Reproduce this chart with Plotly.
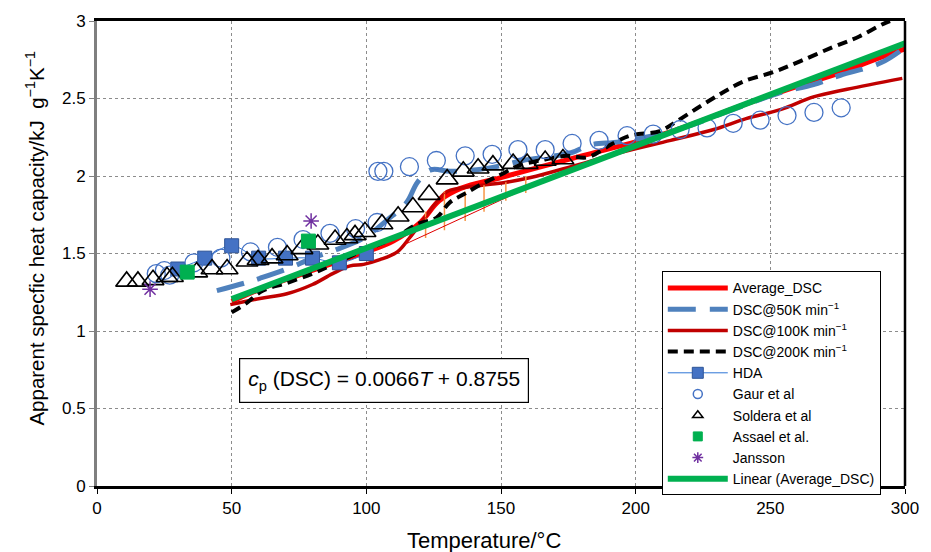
import plotly.graph_objects as go

# ---------------- data ----------------
avg_T  = [50, 62, 75, 88, 100, 110, 120, 127, 135, 150, 165, 180, 200, 212, 225, 237, 250, 262, 275, 287, 300]
avg_cp = [1.19, 1.28, 1.36, 1.44, 1.51, 1.58, 1.70, 1.84, 1.92, 1.99, 2.06, 2.13, 2.22, 2.28, 2.36, 2.44, 2.52, 2.59, 2.66, 2.74, 2.82]

d50_T  = [44.5, 55, 60.5, 70.5, 80, 88, 99, 108, 115, 119, 124, 131, 141, 151, 158, 176, 183, 194, 209, 221, 230, 241, 254, 266, 276, 291, 300]
d50_cp = [1.26, 1.31, 1.34, 1.40, 1.47, 1.52, 1.60, 1.72, 1.83, 1.96, 2.04, 2.03, 2.04, 2.07, 2.10, 2.15, 2.20, 2.22, 2.27, 2.33, 2.39, 2.46, 2.54, 2.59, 2.65, 2.73, 2.83]

d100_T  = [49.5, 60.5, 70.5, 80, 87.5, 94, 99, 105, 111.5, 116, 122.5, 126, 130, 134, 143, 152, 161, 176, 194, 213, 229, 241, 254, 266, 278.5, 299]
d100_cp = [1.17, 1.21, 1.24, 1.30, 1.37, 1.42, 1.43, 1.46, 1.51, 1.60, 1.75, 1.83, 1.90, 1.92, 1.94, 1.96, 1.99, 2.06, 2.15, 2.23, 2.30, 2.37, 2.43, 2.51, 2.56, 2.63]

d200_T  = [50, 55.5, 61.5, 70.5, 80, 86.5, 95, 105, 111.5, 119, 126, 131, 136, 142, 150, 157, 164.5, 174.5, 182, 191.5, 198, 209, 215, 224, 232.5, 240, 251, 261, 273, 283, 293, 300]
d200_cp = [1.12, 1.18, 1.26, 1.31, 1.37, 1.42, 1.49, 1.56, 1.61, 1.69, 1.73, 1.83, 1.88, 1.94, 2.01, 2.07, 2.10, 2.13, 2.12, 2.21, 2.26, 2.29, 2.35, 2.45, 2.54, 2.61, 2.67, 2.74, 2.83, 2.90, 2.99, 3.03]

hda_T  = [30, 40, 50, 60, 70, 80, 90, 100]
hda_cp = [1.40, 1.47, 1.55, 1.47, 1.47, 1.47, 1.44, 1.50]

gaur_T  = [22, 25, 27, 36, 46, 57, 67, 76.5, 86.5, 96, 104, 104.3, 106.5, 116, 126, 136.7, 146.7, 156.3, 166.4, 176.4, 186.4, 196.8, 206.5, 216.5, 226.5, 236.2, 246.2, 256.2, 266.2, 276.3]
gaur_cp = [1.37, 1.39, 1.36, 1.44, 1.47, 1.51, 1.54, 1.59, 1.63, 1.66, 1.70, 2.03, 2.03, 2.06, 2.10, 2.13, 2.14, 2.17, 2.17, 2.21, 2.23, 2.26, 2.27, 2.30, 2.31, 2.34, 2.36, 2.39, 2.41, 2.44]

sold_T  = [11, 15.2, 20.8, 26, 28, 37, 42.7, 48.3, 55.7, 59.8, 65, 70.6, 76.1, 82, 88.4, 92.8, 95.8, 99.5, 105.8, 111.8, 117.3, 123.3, 130, 136, 141.5, 147, 154.5, 159.7, 166.4, 173]
sold_cp = [1.32, 1.32, 1.33, 1.35, 1.35, 1.38, 1.40, 1.40, 1.45, 1.46, 1.47, 1.49, 1.53, 1.56, 1.59, 1.60, 1.62, 1.64, 1.69, 1.74, 1.80, 1.88, 1.98, 2.03, 2.05, 2.07, 2.08, 2.08, 2.10, 2.11]

assael_T  = [33.5, 78.5]
assael_cp = [1.38, 1.58]

jansson_T  = [19.7, 79.5]
jansson_cp = [1.27, 1.71]

lin_slope = 0.0066
lin_icpt = 0.8755
lin_T = [50, 300]

# enthalpy-area construction (thin baseline, edge and hatch lines)
base_T  = [114.4, 175.6]
base_cp = [1.56, 2.05]
edge_T  = [114.4, 130]
edge_cp = [1.56, 1.91]
hatch_T    = [122, 129, 136.7, 143.7, 151.8, 159.2]
hatch_low  = [1.60, 1.65, 1.71, 1.77, 1.84, 1.89]
hatch_high = [1.77, 1.90, 1.90, 1.94, 1.96, 2.00]

x_ticks = [0, 50, 100, 150, 200, 250, 300]
y_ticks = [0, 0.5, 1, 1.5, 2, 2.5, 3]

FONT = "Liberation Sans, Arial, sans-serif"

fig = go.Figure()


def marker_series(x, y, name, mode, marker, legend_marker, line=None):
    """Data trace (no legend) followed by a legend-only entry with a small symbol."""
    kw = dict(line=line) if line else {}
    fig.add_trace(go.Scatter(x=x, y=y, mode=mode, name=name, legendgroup=name,
                             showlegend=False, marker=marker, **kw))
    fig.add_trace(go.Scatter(x=[None], y=[None], mode=mode, name=name, legendgroup=name,
                             showlegend=True, marker=legend_marker, hoverinfo="skip", **kw))


fig.add_trace(go.Scatter(x=avg_T, y=avg_cp, mode="lines", name="Average_DSC",
                         line=dict(color="#FF0000", width=5, shape="spline")))
fig.add_trace(go.Scatter(x=d50_T, y=d50_cp, mode="lines", name="DSC@50K min<sup>−1</sup>",
                         line=dict(color="#4F81BD", width=5, shape="spline", dash="28px,14px")))
fig.add_trace(go.Scatter(x=d100_T, y=d100_cp, mode="lines", name="DSC@100K min<sup>−1</sup>",
                         line=dict(color="#C00000", width=3.5, shape="spline")))

# hatch construction (not in legend)
hx, hy = [], []
for t, lo, hi in zip(hatch_T, hatch_low, hatch_high):
    hx += [t, t, None]
    hy += [lo, hi, None]
fig.add_trace(go.Scatter(x=hx, y=hy, mode="lines", showlegend=False, hoverinfo="skip",
                         line=dict(color="#F79646", width=1.5)))
fig.add_trace(go.Scatter(x=base_T + [None] + edge_T, y=base_cp + [None] + edge_cp, mode="lines",
                         showlegend=False, hoverinfo="skip",
                         line=dict(color="#E00000", width=1)))

fig.add_trace(go.Scatter(x=d200_T, y=d200_cp, mode="lines", name="DSC@200K min<sup>−1</sup>",
                         line=dict(color="black", width=4, shape="spline", dash="10px,6px")))

marker_series(hda_T, hda_cp, "HDA", "lines+markers",
              dict(symbol="square", size=14, color="#4472C4", line=dict(color="#2F5597", width=1)),
              dict(symbol="square", size=11, color="#4472C4", line=dict(color="#2F5597", width=1)),
              line=dict(color="#2E75D6", width=1, shape="spline"))
marker_series(gaur_T, gaur_cp, "Gaur et al", "markers",
              dict(symbol="circle-open", size=18, color="#4472C4", line=dict(width=1.3)),
              dict(symbol="circle-open", size=9, color="#4472C4", line=dict(width=1.5)))
marker_series(sold_T, sold_cp, "Soldera et al", "markers",
              dict(symbol="triangle-up-open", size=19, color="black", line=dict(width=1.6)),
              dict(symbol="triangle-up-open", size=9, color="black", line=dict(width=1.5)))
marker_series(assael_T, assael_cp, "Assael et al.", "markers",
              dict(symbol="square", size=14, color="#00B050", line=dict(color="#00B050", width=1)),
              dict(symbol="square", size=9, color="#00B050", line=dict(color="#00B050", width=1)))
marker_series(jansson_T, jansson_cp, "Jansson", "markers",
              dict(symbol="asterisk-open", size=13, color="#7030A0", line=dict(color="#7030A0", width=1.5)),
              dict(symbol="asterisk-open", size=9, color="#7030A0", line=dict(color="#7030A0", width=1.5)))

fig.add_trace(go.Scatter(x=lin_T, y=[lin_slope * t + lin_icpt for t in lin_T], mode="lines",
                         name="Linear (Average_DSC)",
                         line=dict(color="#00B050", width=6)))

fig.update_layout(
    width=931, height=552,
    margin=dict(l=97, r=26, t=18, b=66),
    paper_bgcolor="white", plot_bgcolor="white",
    font=dict(family=FONT, size=17, color="black"),
    showlegend=True,
    legend=dict(x=0.699, y=0.4615, xanchor="left", yanchor="top",
                bgcolor="white", bordercolor="black", borderwidth=1,
                font=dict(size=14), itemwidth=60, tracegroupgap=0,
                itemsizing="trace"),
    xaxis=dict(range=[0, 300], tickvals=x_ticks, ticks="outside", ticklen=5,
               tickcolor="black",
               showline=True, linecolor="black", linewidth=3, mirror=True,
               showgrid=True, gridcolor="#8c8c8c", griddash="dot", gridwidth=1,
               zeroline=False),
    yaxis=dict(range=[0, 3], tickvals=y_ticks, ticks="outside", ticklen=5,
               tickcolor="#7f7f7f",
               showline=True, linecolor="#7f7f7f", linewidth=3, mirror=False,
               showgrid=True, gridcolor="#8c8c8c", griddash="dot", gridwidth=1,
               zeroline=False),
)

# right-hand frame line (black)
fig.add_shape(type="line", xref="paper", yref="paper", x0=1, x1=1, y0=0, y1=1,
              line=dict(color="black", width=2.5))

# axis titles
fig.add_annotation(xref="paper", yref="paper", x=(484 - 97) / 808, y=(486 - 541) / 468,
                   text="Temperature/°C", showarrow=False, xanchor="center", yanchor="middle",
                   font=dict(size=22))
fig.add_annotation(xref="paper", yref="paper", x=(35 - 97) / 808, y=(486 - 237) / 468,
                   text="Apparent specfic heat capacity/kJ  g<sup>−1</sup>K<sup>−1</sup>",
                   textangle=-90, showarrow=False, xanchor="center", yanchor="middle",
                   font=dict(size=20.5))

fig.add_annotation(x=106.6, y=0.68, xref="x", yref="y",
                   text="<i>c</i><sub>p</sub> (DSC) = 0.0066<i>T</i> + 0.8755",
                   showarrow=False, font=dict(size=21, color="black"),
                   bgcolor="white", bordercolor="black", borderwidth=1.2, borderpad=8)

fig.write_html("out.html")
